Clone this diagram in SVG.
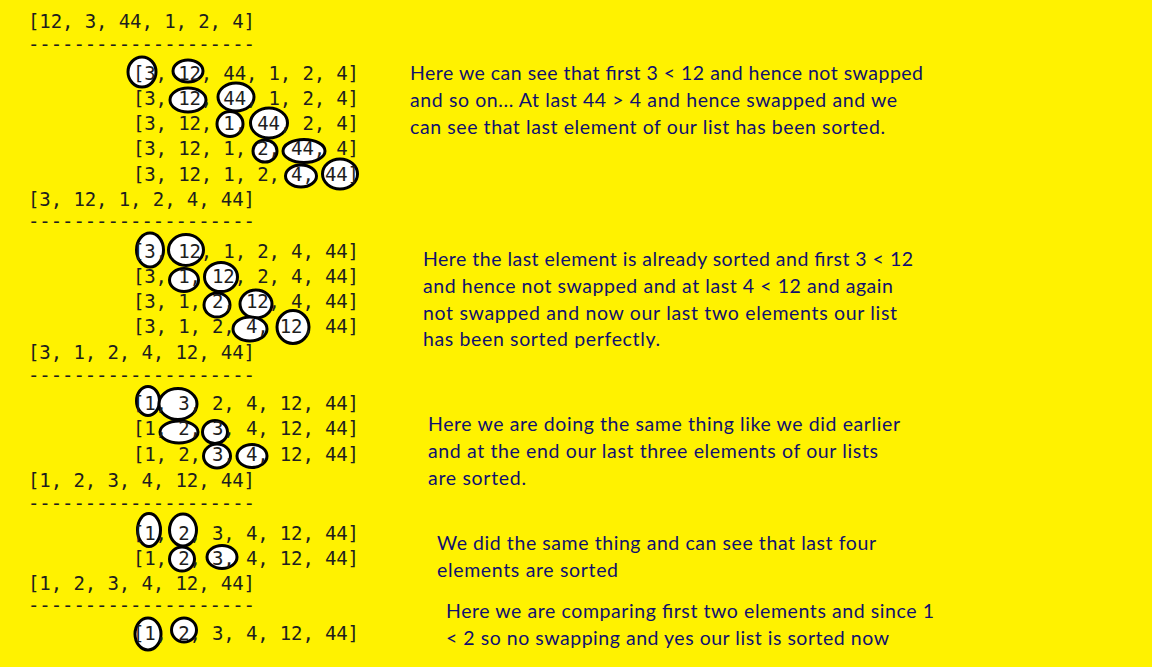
<svg xmlns="http://www.w3.org/2000/svg" width="1152" height="667" viewBox="0 0 1152 667">
<style>
.m{font-family:"DejaVu Sans Mono","Liberation Mono",monospace;font-size:19px;fill:#1e1e1e}
.n{font-family:Lato,"Open Sans","Liberation Sans",sans-serif;font-size:19.5px;fill:#10106e}
.e{fill:#fff;stroke:#000;stroke-width:3}
</style>
<defs>
<clipPath id="c2"><rect x="400" y="240" width="560" height="108"/></clipPath>
</defs>
<rect width="1152" height="667" fill="#FFF200"/>
<g id="circles">
<ellipse class="e" cx="142" cy="72" rx="14" ry="15"/>
<ellipse class="e" cx="188" cy="71" rx="15" ry="11"/>
<ellipse class="e" cx="188" cy="100" rx="18" ry="12"/>
<ellipse class="e" cx="236" cy="97" rx="18" ry="14"/>
<ellipse class="e" cx="230" cy="124" rx="13" ry="12.5"/>
<ellipse class="e" cx="269" cy="123" rx="18.5" ry="15"/>
<ellipse class="e" cx="265" cy="151" rx="12" ry="11"/>
<ellipse class="e" cx="304" cy="151" rx="21" ry="11.5"/>
<ellipse class="e" cx="301" cy="176" rx="15.5" ry="11"/>
<ellipse class="e" cx="340" cy="174" rx="17.5" ry="15"/>
<ellipse class="e" cx="150" cy="250" rx="13.5" ry="17"/>
<ellipse class="e" cx="186" cy="250" rx="17.5" ry="15.5"/>
<ellipse class="e" cx="184" cy="280" rx="14.5" ry="11.5"/>
<ellipse class="e" cx="221" cy="277" rx="16.5" ry="14.5"/>
<ellipse class="e" cx="217" cy="305" rx="13" ry="12"/>
<ellipse class="e" cx="256" cy="304" rx="16" ry="14"/>
<ellipse class="e" cx="250" cy="329" rx="17" ry="12"/>
<ellipse class="e" cx="293" cy="327" rx="16" ry="16.5"/>
<ellipse class="e" cx="148" cy="401" rx="11.5" ry="14.5"/>
<ellipse class="e" cx="178" cy="404" rx="19" ry="15.5"/>
<ellipse class="e" cx="179" cy="432" rx="19" ry="11"/>
<ellipse class="e" cx="215" cy="432" rx="12.5" ry="11.5"/>
<ellipse class="e" cx="217" cy="456" rx="13.5" ry="12"/>
<ellipse class="e" cx="252" cy="456" rx="15" ry="11.5"/>
<ellipse class="e" cx="149" cy="530" rx="11.5" ry="16.5"/>
<ellipse class="e" cx="183" cy="530" rx="13.5" ry="16"/>
<ellipse class="e" cx="182" cy="559" rx="12.5" ry="12"/>
<ellipse class="e" cx="222" cy="557" rx="15" ry="11.5"/>
<ellipse class="e" cx="148" cy="634" rx="13" ry="16"/>
<ellipse class="e" cx="184" cy="630" rx="12.5" ry="12"/>
</g>
<g id="lists">
<text class="m" x="28" y="28" textLength="227">[12, 3, 44, 1, 2, 4]</text>
<text class="m" x="28" y="51" textLength="227">--------------------</text>
<text class="m" x="133" y="80" textLength="226">[3, 12, 44, 1, 2, 4]</text>
<text class="m" x="133" y="105" textLength="226">[3, 12, 44, 1, 2, 4]</text>
<text class="m" x="133" y="130" textLength="226">[3, 12, 1, 44, 2, 4]</text>
<text class="m" x="133" y="155" textLength="226">[3, 12, 1, 2, 44, 4]</text>
<text class="m" x="133" y="181" textLength="226">[3, 12, 1, 2, 4, 44]</text>
<text class="m" x="28" y="206" textLength="227">[3, 12, 1, 2, 4, 44]</text>
<text class="m" x="28" y="228" textLength="227">--------------------</text>
<text class="m" x="133" y="258" textLength="226">[3, 12, 1, 2, 4, 44]</text>
<text class="m" x="133" y="283" textLength="226">[3, 1, 12, 2, 4, 44]</text>
<text class="m" x="133" y="308" textLength="226">[3, 1, 2, 12, 4, 44]</text>
<text class="m" x="133" y="333" textLength="226">[3, 1, 2, 4, 12, 44]</text>
<text class="m" x="28" y="359" textLength="227">[3, 1, 2, 4, 12, 44]</text>
<text class="m" x="28" y="382" textLength="227">--------------------</text>
<text class="m" x="133" y="410" textLength="226">[1, 3, 2, 4, 12, 44]</text>
<text class="m" x="133" y="435" textLength="226">[1, 2, 3, 4, 12, 44]</text>
<text class="m" x="133" y="461" textLength="226">[1, 2, 3, 4, 12, 44]</text>
<text class="m" x="28" y="487" textLength="227">[1, 2, 3, 4, 12, 44]</text>
<text class="m" x="28" y="510" textLength="227">--------------------</text>
<text class="m" x="133" y="540" textLength="226">[1, 2, 3, 4, 12, 44]</text>
<text class="m" x="133" y="565" textLength="226">[1, 2, 3, 4, 12, 44]</text>
<text class="m" x="28" y="590" textLength="227">[1, 2, 3, 4, 12, 44]</text>
<text class="m" x="28" y="612" textLength="227">--------------------</text>
<text class="m" x="133" y="640" textLength="226">[1, 2, 3, 4, 12, 44]</text>
</g>
<g id="note1">
<text class="n" x="410" y="80" textLength="513">Here we can see that first 3 &lt; 12 and hence not swapped</text>
<text class="n" x="410" y="107" textLength="487">and so on... At last 44 &gt; 4 and hence swapped and we</text>
<text class="n" x="410" y="134" textLength="475">can see that last element of our list has been sorted.</text>
</g>
<g id="note2" clip-path="url(#c2)">
<text class="n" x="423" y="266" textLength="490">Here the last element is already sorted and first 3 &lt; 12</text>
<text class="n" x="423" y="293" textLength="470">and hence not swapped and at last 4 &lt; 12 and again</text>
<text class="n" x="423" y="320" textLength="474">not swapped and now our last two elements our list</text>
<text class="n" x="423" y="346" textLength="237">has been sorted perfectly.</text>
</g>
<g id="note3">
<text class="n" x="428" y="431" textLength="472">Here we are doing the same thing like we did earlier</text>
<text class="n" x="428" y="458" textLength="450">and at the end our last three elements of our lists</text>
<text class="n" x="428" y="485" textLength="98">are sorted.</text>
</g>
<g id="note4">
<text class="n" x="437" y="550" textLength="439">We did the same thing and can see that last four</text>
<text class="n" x="437" y="577" textLength="181">elements are sorted</text>
</g>
<g id="note5">
<text class="n" x="446" y="618" textLength="488">Here we are comparing first two elements and since 1</text>
<text class="n" x="446" y="645" textLength="443">&lt; 2 so no swapping and yes our list is sorted now</text>
</g>
</svg>
